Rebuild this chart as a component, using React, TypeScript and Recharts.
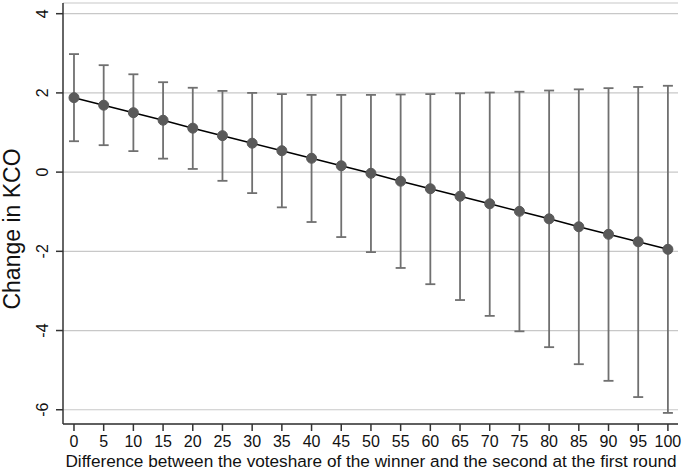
import { ComposedChart, Line, ErrorBar, XAxis, YAxis, CartesianGrid } from 'recharts';

const margins = [0, 5, 10, 15, 20, 25, 30, 35, 40, 45, 50, 55, 60, 65, 70, 75, 80, 85, 90, 95, 100];
const estimates = [1.88, 1.69, 1.5, 1.31, 1.11, 0.92, 0.73, 0.54, 0.35, 0.16, -0.03, -0.23, -0.42, -0.61, -0.8, -0.99, -1.18, -1.38, -1.57, -1.76, -1.95];
const upper = [2.98, 2.7, 2.47, 2.27, 2.13, 2.05, 2.0, 1.97, 1.95, 1.95, 1.95, 1.96, 1.97, 1.99, 2.01, 2.03, 2.06, 2.09, 2.12, 2.15, 2.18];
const lower = [0.78, 0.68, 0.53, 0.34, 0.08, -0.22, -0.53, -0.89, -1.26, -1.64, -2.02, -2.42, -2.83, -3.23, -3.63, -4.02, -4.42, -4.85, -5.27, -5.68, -6.08];
const yTicks = [-6, -4, -2, 0, 2, 4];

const data = margins.map((m, i) => ({
  margin: m,
  est: estimates[i],
  ci: [estimates[i] - lower[i], upper[i] - estimates[i]],
}));

const font = '"Liberation Sans", Arial, Helvetica, sans-serif';

function YTick(props: any) {
  const { y, payload } = props;
  return (
    <text x={48} y={y} transform={`rotate(-90, 48, ${y})`} textAnchor="middle" fontSize={16} fontFamily={font} fill="#111">
      {payload.value}
    </text>
  );
}

function XTick(props: any) {
  const { x, payload } = props;
  return (
    <text x={x} y={447} textAnchor="middle" fontSize={16} fontFamily={font} fill="#111">
      {payload.value}
    </text>
  );
}

function YTitle() {
  return (
    <text x={20} y={229} transform="rotate(-90, 20, 229)" textAnchor="middle" fontSize={23} fontFamily={font} fill="#111">
      Change in KCO
    </text>
  );
}

function XTitle() {
  return (
    <text x={371} y={467} textAnchor="middle" fontSize={17.2} fontFamily={font} fill="#111">
      Difference between the voteshare of the winner and the second at the first round
    </text>
  );
}

export default function App() {
  return (
    <div style={{ position: 'absolute', left: 0, top: 0, background: '#fff' }}>
      <ComposedChart width={685} height={470} data={data} margin={{ top: 3, right: 7, left: 0, bottom: 0 }}>
        <CartesianGrid vertical={false} stroke="#c8c8c8" strokeWidth={1.2} />
        <XAxis
          dataKey="margin"
          type="number"
          domain={[-1.85, 101.7]}
          ticks={margins}
          interval={0}
          height={46}
          stroke="#333"
          strokeWidth={1.5}
          tickSize={7}
          tick={<XTick />}
          label={<XTitle />}
        />
        <YAxis
          type="number"
          domain={[-6.36, 4.27]}
          ticks={yTicks}
          width={63}
          stroke="#333"
          strokeWidth={1.5}
          tickSize={7}
          tick={<YTick />}
          label={<YTitle />}
        />
        <Line
          dataKey="est"
          stroke="#000"
          strokeWidth={1.5}
          isAnimationActive={false}
          dot={{ r: 5, fill: '#5a5a5a', stroke: '#5a5a5a', strokeWidth: 1 }}
          activeDot={false}
        >
          <ErrorBar dataKey="ci" width={5} stroke="#707070" strokeWidth={1.8} direction="y" />
        </Line>
      </ComposedChart>
    </div>
  );
}
